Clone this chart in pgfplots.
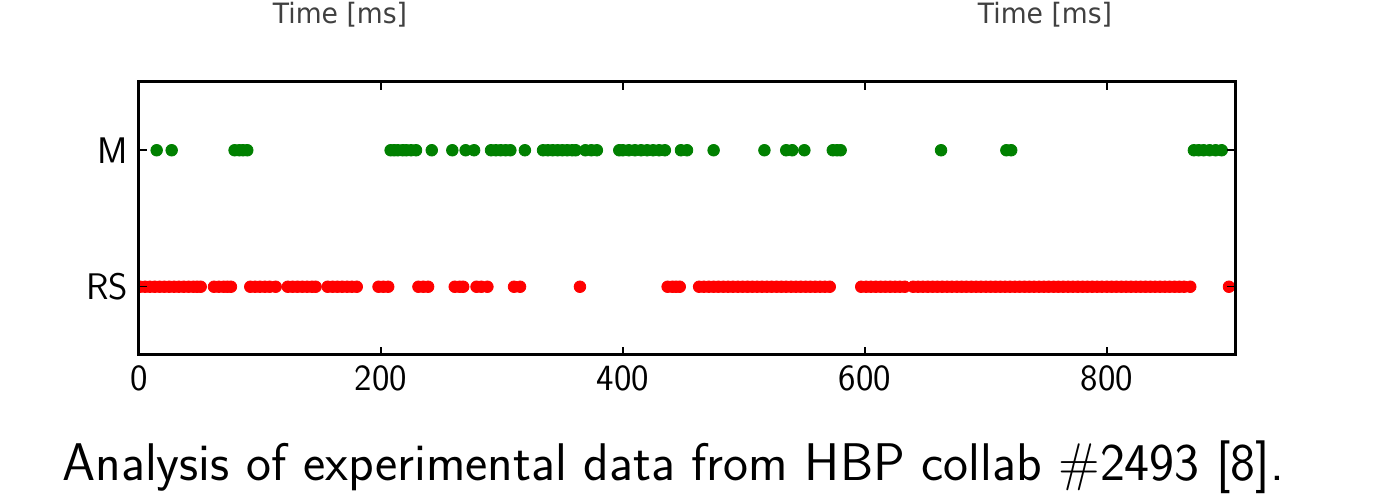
\documentclass[border=0pt]{standalone}
\usepackage{fontspec}
\usepackage{pgfplots}
\pgfplotsset{compat=1.18}
\usetikzlibrary{calc}
\newfontfamily\djv{DejaVu Sans}
\definecolor{mplgreen}{rgb}{0,0.5,0}
\definecolor{mplred}{rgb}{1,0,0}

\begin{document}
\begin{tikzpicture}[x=1pt,y=1pt]
\begin{axis}[
  scale only axis, width=548pt, height=136.5pt,
  xmin=0, xmax=906, ymin=-0.5, ymax=1.5,
  xtick={0,200,400,600,800},
  ytick={0,1}, yticklabels={RS,M},
  tick align=inside, major tick length=4pt,
  axis line style={line width=1.5pt},
  every tick/.style={black, line width=0.75pt},
  tick label style={font=\sffamily\fontsize{18.5}{22}\selectfont},
  /pgf/number format/assume math mode=true,
  /pgf/number format/1000 sep={},
  xticklabel style={yshift=-2pt},
  yticklabel style={xshift=-2pt},
  clip marker paths=true,
  axis on top,
]
\coordinate (bl) at (rel axis cs:0,0);
% M
\addplot[only marks, mark=*, mark size=2.9pt, color=mplgreen]
  coordinates {
  (14.6,1) (27,1) (79,1) (83,1) (86,1) (89.5,1)
  (208,1) (211,1) (214,1) (218,1) (221,1) (225,1) (229,1)
  (242,1) (259,1) (270,1) (277,1)
  (291,1) (295,1) (299,1) (303,1) (307,1) (319,1)
  (334,1) (338,1) (342,1) (346,1) (350,1) (354,1) (358,1) (361,1)
  (369,1) (374,1) (378.5,1)
  (397,1) (400,1) (405,1) (410,1) (415,1) (420,1) (425,1) (430,1) (434.7,1)
  (448,1) (453,1) (475,1) (517,1)
  (535,1) (540,1) (550,1) (573.5,1) (577,1) (580,1)
  (663,1) (717,1) (721,1)
  (872,1) (876,1) (880,1) (885,1) (890,1) (895,1)
  };
% RS
\addplot[only marks, mark=*, mark size=2.9pt, color=mplred]
  coordinates {
  (1,0) (5,0) (9,0) (13,0) (17,0) (21,0) (25,0) (29,0) (33,0) (37,0) (41,0) (45,0) (48,0) (51,0)
  (62,0) (66,0) (70,0) (73,0) (76,0)
  (92,0) (96,0) (100,0) (104,0) (108,0) (113,0)
  (123,0) (127,0) (131,0) (135,0) (139,0) (143,0) (146,0)
  (156,0) (160,0) (164,0) (168,0) (172,0) (176,0) (180,0)
  (198,0) (202,0) (206,0)
  (231,0) (235,0) (239,0)
  (261,0) (265,0) (268,0) (279,0) (283,0) (288,0)
  (310,0) (315,0) (364.5,0)
  (437,0) (441,0) (444,0) (447,0)
  (463,0) (467,0) (471,0) (475,0) (479,0) (483,0) (487,0) (491,0) (495,0) (499,0)
  (503,0) (507,0) (511,0) (515,0) (519,0) (523,0) (527,0) (531,0) (535,0) (539,0)
  (543,0) (547,0) (551,0) (555,0) (559,0) (563,0) (567,0) (571,0)
  (597,0) (601,0) (605,0) (609,0) (613,0) (617,0) (621,0) (625,0) (629,0) (633,0)
  (640,0) (644,0) (648,0) (652,0) (656,0) (660,0) (664,0) (668,0) (672,0) (676,0)
  (680,0) (684,0) (688,0) (692,0) (696,0) (700,0) (704,0) (708,0) (712,0) (716,0)
  (720,0) (724,0) (728,0) (732,0) (736,0) (740,0) (744,0) (748,0) (752,0) (756,0)
  (760,0) (764,0) (768,0) (772,0) (776,0) (780,0) (784,0) (788,0) (792,0) (796,0)
  (800,0) (804,0) (808,0) (812,0) (816,0) (820,0) (824,0) (828,0) (832,0) (836,0)
  (840,0) (844,0) (848,0) (852,0) (856,0) (860,0) (864,0) (869,0)
  (901,0)
  };
\end{axis}
% page origin relative to the axis box corner
\coordinate (O) at ($(bl)+(-69.5,-73.5)$);
% remnants of the previous figure's axis labels
\node[font=\djv\fontsize{14}{16}\selectfont, text=black!75, anchor=north, inner sep=0pt]
  at ($(O)+(170,250)$) {\scalebox{0.95}[1]{Time [ms]}};
\node[font=\djv\fontsize{14}{16}\selectfont, text=black!75, anchor=north, inner sep=0pt]
  at ($(O)+(522.5,250)$) {\scalebox{0.95}[1]{Time [ms]}};
\node[font=\sffamily\fontsize{26.5}{30}\selectfont, anchor=base west, inner sep=0pt]
  at ($(O)+(31,10.5)$) {Analysis of experimental data from HBP collab \#2493 [8].};
\pgfresetboundingbox
\path[use as bounding box] (O) rectangle ($(O)+(695.5,251)$);
\end{tikzpicture}
\end{document}
